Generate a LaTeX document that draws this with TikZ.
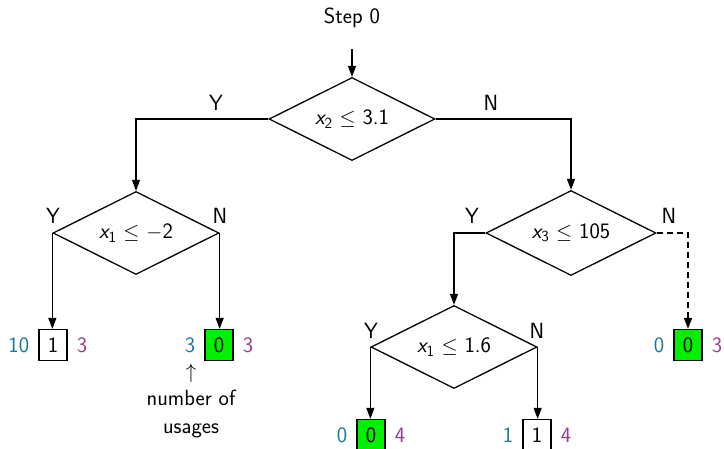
\documentclass[tikz,border=0pt]{standalone}
\usetikzlibrary{arrows.meta,shapes.geometric,positioning}
\definecolor{cnt}{RGB}{25,120,160}
\definecolor{dep}{RGB}{150,60,150}
\definecolor{leafgreen}{RGB}{0,240,0}
\newcommand{\vx}[1]{{\itshape x}\textsubscript{#1}}
\begin{document}
\begin{tikzpicture}[x=1pt,y=-1pt,
  every node/.style={font=\sffamily\fontsize{22}{28}\selectfont},
  test/.style={draw,shape=diamond,aspect=2,minimum width=166pt,minimum height=83pt,inner sep=0pt,line width=1.3pt},
  leaf/.style={draw,rectangle,minimum width=28pt,minimum height=31pt,inner sep=0pt,line width=1.3pt},
  win/.style={leaf,fill=leafgreen},
  conn/.style={line width=1.3pt,-{Triangle[length=11pt,width=8pt]}},
  cntl/.style={text=cnt,inner sep=1pt},
  depl/.style={text=dep,inner sep=1pt}]
\useasboundingbox (0,0) rectangle (724,448);
\node (step) at (352,18) {Step 0};
\node[test] (d1) at (352,119) {\vx{2} $\le$ 3.1};
\node[test] (d2) at (136,233) {\vx{1} $\le$ $-$2};
\node[test,minimum width=170pt,minimum height=85pt] (d3) at (571,233) {\vx{3} $\le$ 105};
\node[test] (d4) at (454,347) {\vx{1} $\le$ 1.6};
\node[leaf] (l1) at (53,345) {1};
\node[win] (l2) at (219,345) {0};
\node[win] (l5) at (688,345) {0};
\node[win] (l3) at (371,435) {0};
\node[leaf] (l4) at (537,435) {1};
\node[cntl,left=8pt of l1] (c1) {10};
\node[depl,right=8pt of l1] (p1) {3};
\node[cntl,left=8pt of l2] (c2) {3};
\node[depl,right=8pt of l2] (p2) {3};
\node[cntl,left=8pt of l5] (c5) {0};
\node[depl,right=8pt of l5] (p5) {3};
\node[cntl,left=8pt of l3] (c3) {0};
\node[depl,right=8pt of l3] (p3) {4};
\node[cntl,left=8pt of l4] (c4) {1};
\node[depl,right=8pt of l4] (p4) {4};
\node (y1) at (216,103) {Y};
\node (n1) at (491,103) {N};
\node (y2) at (53,216) {Y};
\node (n2) at (220,216) {N};
\node (y3) at (472,216) {Y};
\node (n3) at (669,216) {N};
\node (y4) at (371,331) {Y};
\node (n4) at (537,331) {N};
\node (up) at (191,373) {$\uparrow$};
\node[align=center] (note) at (191,414) {number of\\usages};
\draw[conn,shorten <=18pt] (step.south) -- (d1.north);
\draw[conn] (d1.west) -| (d2.north);
\draw[conn] (d1.east) -| (d3.north);
\draw[conn] (d2.west) -- (d2.west |- l1.north);
\draw[conn] (d2.east) -- (d2.east |- l2.north);
\draw[conn] (d3.west) -| (d4.north);
\draw[conn,dash pattern=on 6pt off 4pt] (d3.east) -| (l5.north);
\draw[conn] (d4.west) -- (d4.west |- l3.north);
\draw[conn] (d4.east) -- (d4.east |- l4.north);
\end{tikzpicture}
\end{document}
